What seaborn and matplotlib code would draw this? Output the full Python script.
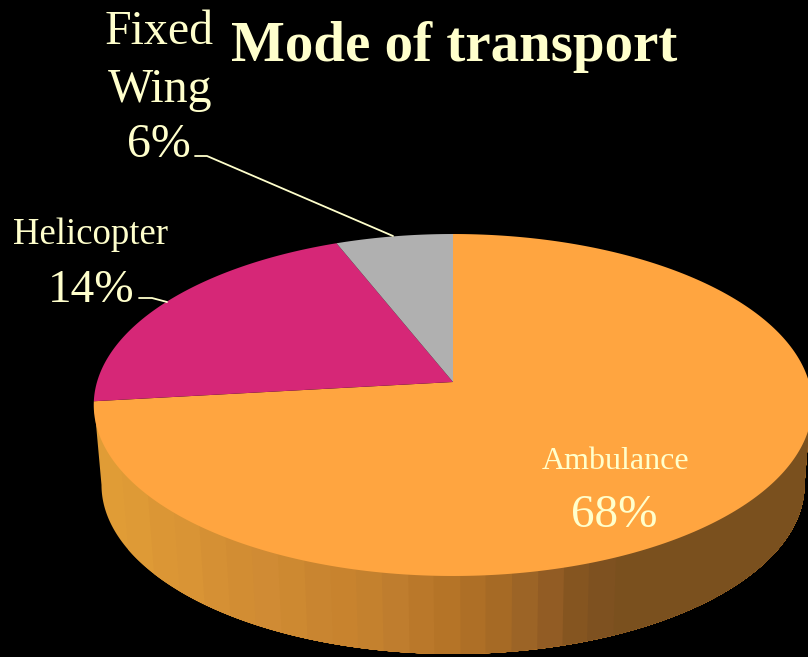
import numpy as np
import matplotlib
matplotlib.use('Agg')
import matplotlib.pyplot as plt
import seaborn as sns

# wedge shares as drawn in the picture (they do not follow the printed percents)
shares = [73.2, 20.8, 6.0]
names = ['Ambulance', 'Helicopter', 'Fixed Wing']
percents = ['68%', '14%', '6%']
colors = ['#FFA540', '#D62777', '#B0B0B0']
wall_shades = ['#E09C36', '#DE9A36', '#DB9635', '#D99435', '#D59034', '#D28D33', '#D08B34',
               '#CD8931', '#C98530', '#C8832E', '#C4812E', '#BF7D2E', '#BA782A', '#B57427',
               '#AE6F26', '#A66A25', '#9C6426', '#925C24', '#855520', '#7E5120', '#7A501E']
cream = '#FFFFCC'

sns.set_theme(style='white', rc={'figure.facecolor': 'black', 'axes.facecolor': 'black'})
plt.rcParams['font.family'] = ['Liberation Serif', 'DejaVu Serif']

fig = plt.figure(figsize=(8.08, 6.57), dpi=100)
ax = fig.add_axes([0, 0, 1, 1])

wedges, _ = ax.pie(shares, colors=colors, startangle=90, counterclock=False)
spans = [(w.theta1, w.theta2) for w in wedges]
for w in wedges:
    w.remove()

ax.set_aspect('auto')
ax.set_xlim(0, 808)
ax.set_ylim(657, 0)
ax.axis('off')


def tilt(x, y):
    # perspective view of the unit circle, apex of the pie at (453, 382)
    k = 0.1345
    return 453 + 356 * x / (1 + k * y), 382 - 167.9 * y / (1 + k * y)


# side wall, bands painted left to right, each runs to the end and the next covers it
theta = np.radians(np.linspace(180, 360, 800))
top_x = 452.5 + 358.5 * np.cos(theta)
top_y = 405 - 171 * np.sin(theta)
low_x = 453 + 351.5 * np.cos(theta)
low_y = 485 - 169 * np.sin(theta)
band = np.clip(((top_x - 95) / 26).astype(int), 0, len(wall_shades) - 1)
for b, c in enumerate(wall_shades):
    idx = np.where(band >= b)[0]
    ax.fill(np.r_[top_x[idx], low_x[idx][::-1]],
            np.r_[top_y[idx] - 3, low_y[idx][::-1]],
            color=c, lw=0)

# top face
for (t1, t2), c in zip(spans, colors):
    t = np.radians(np.linspace(t1, t2, 300))
    x, y = tilt(np.cos(t), np.sin(t))
    ax.fill(np.r_[453, x], np.r_[382, y], color=c, lw=0)

# leader lines
ax.plot([195, 207, 393], [156, 156, 236], color=cream, lw=1.3)
ax.plot([139, 152, 167], [298, 298, 302], color=cream, lw=1.3)

ax.text(454.5, 61, 'Mode of transport', color=cream, fontsize=41, fontweight='bold',
        ha='center', va='baseline')

ax.text(159, 44, 'Fixed', color=cream, fontsize=34.5, ha='center', va='baseline')
ax.text(160, 102, 'Wing', color=cream, fontsize=34.5, ha='center', va='baseline')
ax.text(159, 157, percents[2], color=cream, fontsize=34.5, ha='center', va='baseline')
ax.text(90, 244, names[1], color=cream, fontsize=26.5, ha='center', va='baseline')
ax.text(91, 302, percents[1], color=cream, fontsize=34, ha='center', va='baseline')
ax.text(615.5, 469, names[0], color=cream, fontsize=23, ha='center', va='baseline')
ax.text(614.5, 527, percents[0], color=cream, fontsize=34, ha='center', va='baseline')

fig.savefig('out.png', dpi=100, facecolor='black')
